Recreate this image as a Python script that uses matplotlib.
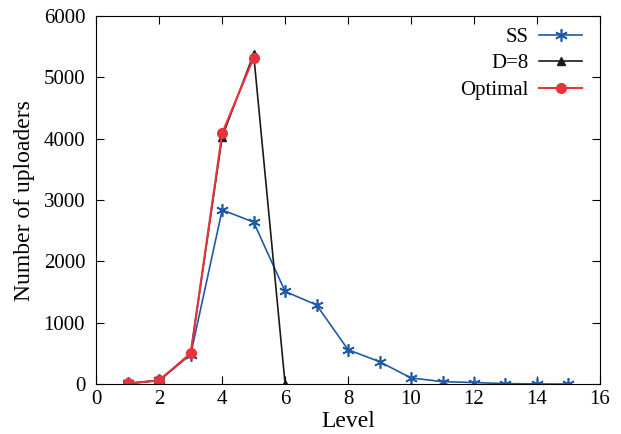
import matplotlib
matplotlib.use("Agg")
import matplotlib.pyplot as plt
from matplotlib.lines import Line2D

levels_ss = [1, 2, 3, 4, 5, 6, 7, 8, 9, 10, 11, 12, 13, 14, 15]
ss = [10, 60, 480, 2840, 2640, 1510, 1290, 560, 365, 100, 40, 25, 8, 3, 0]
levels_d8 = [1, 2, 3, 4, 5, 6]
d8 = [10, 60, 500, 4030, 5380, 0]
levels_opt = [1, 2, 3, 4, 5]
opt = [10, 60, 500, 4090, 5320]

plt.rcParams['font.family'] = ['Liberation Serif', 'DejaVu Serif']
plt.rcParams['font.size'] = 15

fig = plt.figure(figsize=(6.21, 4.34), dpi=100)
ax = fig.add_axes([0.155, 0.115, 0.811, 0.848])

blue = '#1f5aa6'
ax.plot(levels_ss, ss, color=blue, marker=(6, 2, 0), markersize=9, mew=1.2, lw=1.2)
ax.plot(levels_d8, d8, color='#1a1a1a', marker='^', markersize=6, lw=1.2)
ax.plot(levels_opt, opt, color='#e8323c', marker='o', markersize=7, lw=1.5)

ax.set_xlim(0, 16)
ax.set_ylim(0, 6000)
ax.set_xticks(range(0, 17, 2))
ax.set_yticks(range(0, 6001, 1000))
ax.tick_params(direction='in', top=True, right=True, length=6, labelsize=15)
ax.tick_params(axis='y', pad=8)
ax.tick_params(axis='x', pad=4)
ax.set_xlabel('Level', labelpad=2, fontsize=17)
ax.set_ylabel('Number of uploaders', fontsize=17, labelpad=6)

handles = [
    Line2D([], [], color=blue, marker=(6, 2, 0), markersize=9, mew=1.2, lw=1.2),
    Line2D([], [], color='#1a1a1a', marker='^', markersize=6, lw=1.2),
    Line2D([], [], color='#e8323c', marker='o', markersize=7, lw=1.5),
]
ax.legend(handles, ['SS', 'D=8', 'Optimal'], loc='upper right', frameon=False,
          markerfirst=False, handlelength=2.1, handletextpad=0.5,
          labelspacing=0.33, borderaxespad=0.0, bbox_to_anchor=(0.982, 0.992))

fig.savefig('out.png', dpi=100)
